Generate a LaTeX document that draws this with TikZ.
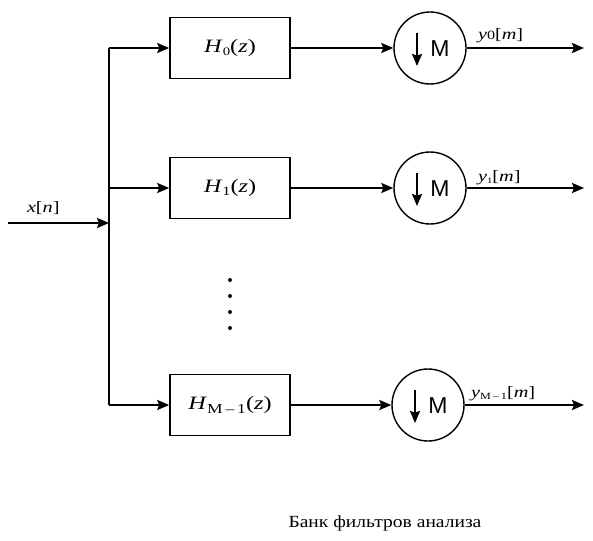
\documentclass[tikz,border=0pt]{standalone}
\usepackage{graphicx}
\usepackage{fontspec}
\setmainfont{Liberation Serif}
\newfontfamily\sansM{Liberation Sans}
\usetikzlibrary{arrows.meta}
\newcommand{\wideTxt}[1]{\scalebox{1.35}[1.05]{#1}}
\begin{document}
\begin{tikzpicture}[x=1pt,y=-1pt,
  line width=2pt,
  arr/.style={-{Stealth[length=12pt,width=10pt,inset=2pt]}},
  filt/.style={draw,line width=1.6pt,minimum width=120pt,minimum height=61pt,inner sep=0pt,font=\fontsize{18}{20}\selectfont},
  dec/.style={draw,circle,line width=1.4pt,minimum size=72pt,inner sep=0pt},
  lbl/.style={font=\fontsize{15}{18}\selectfont,inner sep=0pt,anchor=base west},
  dotst/.style={circle,fill,inner sep=0pt,minimum size=4pt}]
\useasboundingbox (0,0) rectangle (593,540);
% filters
\node[filt] (h0) at (230,48) {\wideTxt{\textit{H}\raisebox{-3pt}{\fontsize{11}{11}\selectfont 0}(\textit{z})}};
\node[filt] (h1) at (230,188) {\wideTxt{\textit{H}\raisebox{-3pt}{\fontsize{12}{12}\selectfont 1}(\textit{z})}};
\node[filt] (hm) at (230,405) {\wideTxt{\textit{H}\raisebox{-4pt}{\fontsize{13}{13}\selectfont M\,–\,1}(\textit{z})}};
% decimators
\node[dec] (c0) at (430,48) {};
\node[dec] (c1) at (430,188) {};
\node[dec] (cm) at (428,405) {};
\foreach \c in {c0,c1,cm}{
  \draw[-{Stealth[length=12pt,width=10pt,inset=1.5pt]},line width=1.6pt] ([xshift=-13pt,yshift=15pt]\c.center) -- ([xshift=-13pt,yshift=-18pt]\c.center);
  \node[font=\sansM\fontsize{23}{26}\selectfont,inner sep=0pt] at ([xshift=10pt,yshift=-1pt]\c.center) {M};
}
% bus and input
\coordinate (in) at (8,223);
\coordinate (bj) at (109,223);
\coordinate (b0) at (109,48);
\coordinate (b1) at (109,188);
\coordinate (bm) at (109,405);
\draw[arr] (in) -- (bj);
\draw (b0) -- (bm);
\draw[arr] (b0) -- (h0);
\draw[arr] (b1) -- (h1);
\draw[arr] (bm) -- (hm);
\draw[arr] (h0) -- (c0);
\draw[arr] (h1) -- (c1);
\draw[arr] (hm) -- (cm);
\coordinate (o0) at (584,48);
\coordinate (o1) at (584,188);
\coordinate (om) at (584,405);
\draw[arr] (c0) -- (o0);
\draw[arr] (c1) -- (o1);
\draw[arr] (cm) -- (om);
% labels
\node[lbl] (lx) at (26,212) {\wideTxt{\textit{x}[\textit{n}]}};
\node[lbl] (ly0) at (477,40) {\wideTxt{\textit{y}{\fontsize{12}{12}\selectfont 0}[\textit{m}]}};
\node[lbl] (ly1) at (477,181) {\wideTxt{\textit{y}\raisebox{-2pt}{\fontsize{8}{8}\selectfont 1}[\textit{m}]}};
\node[lbl] (lym) at (470,397) {\wideTxt{\textit{y}\raisebox{-2pt}{\fontsize{9}{9}\selectfont M\,–\,1}[\textit{m}]}};
% dots
\foreach \yy [count=\i] in {280,296,312,328}
  \node[dotst] (d\i) at (230,\yy) {};
% caption
\node[font=\fontsize{17}{20}\selectfont,inner sep=0pt,anchor=base] (cap) at (385,527) {\scalebox{1.15}[1]{Банк фильтров анализа}};
\end{tikzpicture}
\end{document}
